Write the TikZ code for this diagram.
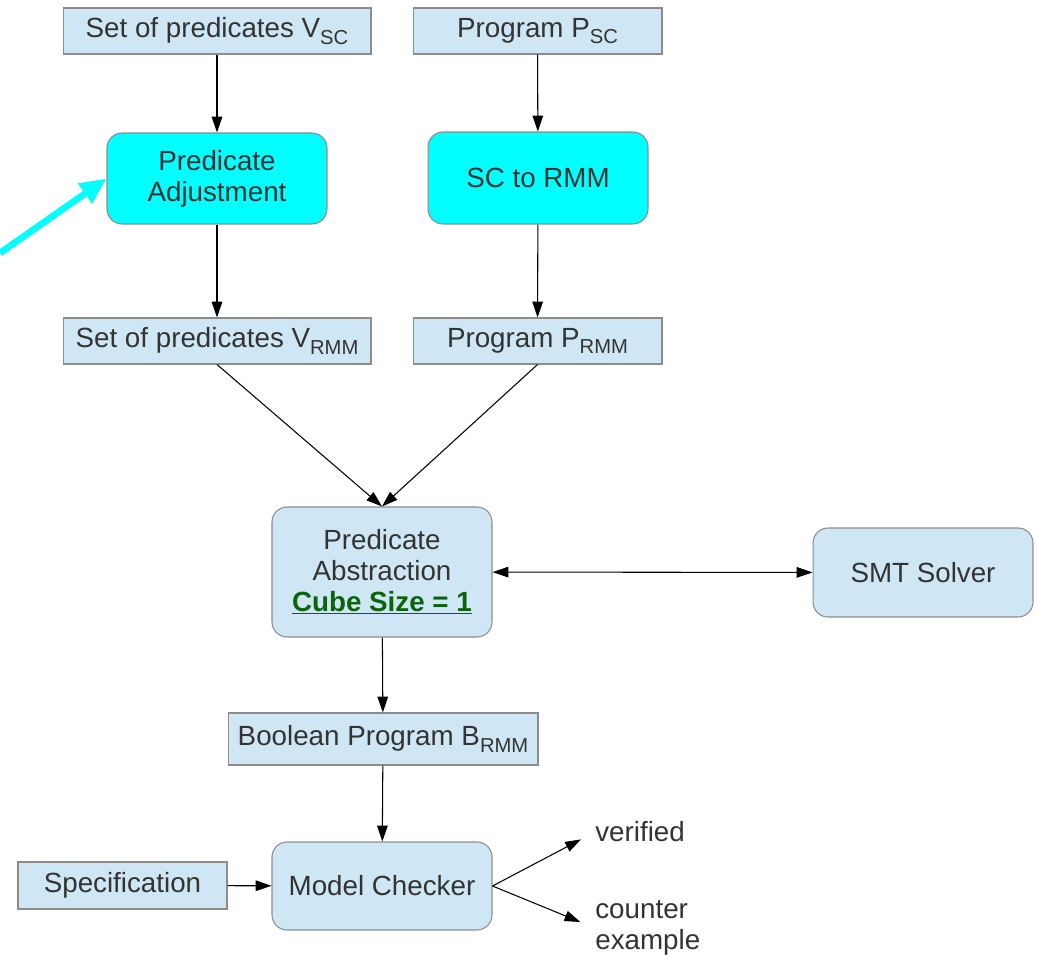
\documentclass[tikz,border=0pt]{standalone}
\usepackage{fontspec}
\setmainfont{Liberation Sans}
\usepackage{xcolor}
\usetikzlibrary{arrows.meta}

\definecolor{boxblue}{HTML}{CFE7F5}
\definecolor{boxline}{HTML}{8C8C8C}
\definecolor{txtgray}{HTML}{333333}
\definecolor{cubegreen}{HTML}{0B630B}
\definecolor{aqua}{HTML}{00FFFF}

\newcommand{\subtxt}[1]{\raisebox{-0.45ex}{\fontsize{11.5}{12}\selectfont #1}}

\begin{document}
\begin{tikzpicture}[x=0.02cm, y=-0.02cm,
  every node/.style={font=\fontsize{15.8}{17.6}\selectfont, text=txtgray},
  databox/.style={draw=boxline, fill=boxblue, line width=0.6pt, inner sep=2pt, align=center},
  stepbox/.style={draw=boxline, fill=boxblue, line width=0.6pt, rounded corners=0.3cm,
    minimum width=4.4cm, align=center},
  hotbox/.style={stepbox, fill=aqua},
  arr/.style={-{Triangle[length=9pt,width=6pt]}, line width=0.6pt, black},
  dbl/.style={{Triangle[length=9pt,width=6pt]}-{Triangle[length=9pt,width=6pt]}, line width=0.6pt, black}]

\useasboundingbox (0,0) rectangle (1037,955);

% inputs
\node[databox, minimum width=6.16cm, minimum height=0.92cm] (vsc) at (217,31) {Set of predicates V\subtxt{SC}};
\node[databox, minimum width=4.98cm, minimum height=0.92cm] (psc) at (537.5,31) {Program P\subtxt{SC}};

% transformations
\node[hotbox, minimum height=1.82cm] (padj) at (217,178.5) {Predicate\\Adjustment};
\node[hotbox, minimum height=1.84cm] (sc2rmm) at (538,178) {SC to RMM};

\node[databox, minimum width=6.16cm, minimum height=0.92cm] (vrmm) at (217,341) {Set of predicates V\subtxt{RMM}};
\node[databox, minimum width=4.98cm, minimum height=0.92cm] (prmm) at (537.5,341) {Program P\subtxt{RMM}};

% abstraction
\node[stepbox, minimum height=2.6cm] (pabs) at (382,572) {Predicate\\Abstraction\\{\color{cubegreen}\bfseries\underline{Cube Size = 1}}};
\node[stepbox, minimum height=1.78cm] (smt) at (923,572.5) {SMT Solver};

\node[databox, minimum width=6.2cm, minimum height=1.04cm] (bool) at (383,739) {Boolean Program B\subtxt{RMM}};

% checking
\node[databox, minimum width=4.18cm, minimum height=0.94cm] (spec) at (122.5,885.5) {Specification};
\node[stepbox, minimum height=1.76cm] (mc) at (382,886) {Model Checker};

\node[anchor=west, inner sep=0pt] (verified) at (595,832) {verified};
\node[anchor=west, inner sep=0pt, align=left] (cex) at (595,928) {counter\\example};

\coordinate (hint) at (0,253);

\draw[arr] (vsc) -- (padj);
\draw[arr] (psc) -- (sc2rmm);
\draw[arr] (padj) -- (vrmm);
\draw[arr] (sc2rmm) -- (prmm);
\draw[arr] (vrmm.south) -- (pabs.north);
\draw[arr] (prmm.south) -- (pabs.north);
\draw[dbl] (pabs) -- (smt);
\draw[arr] (pabs) -- (bool);
\draw[arr] (bool) -- (mc);
\draw[arr] (spec) -- (mc);
\draw[arr, shorten >=9pt] (mc.east) -- (verified.west);
\draw[arr, shorten >=9pt] (mc.east) -- (cex.west);

\draw[aqua, line width=3.8pt, -{Triangle[length=15pt,width=13pt]}] (hint) -- (padj.west);

\end{tikzpicture}
\end{document}
